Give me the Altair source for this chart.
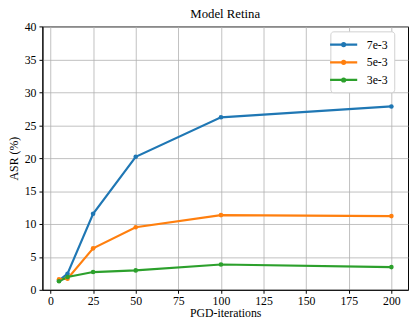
import altair as alt
import pandas as pd

iterations = [5, 10, 25, 50, 100, 200]
asr_7e3 = [1.4, 2.45, 11.55, 20.2, 26.2, 27.85]
asr_5e3 = [1.6, 1.7, 6.3, 9.5, 11.35, 11.2]
asr_3e3 = [1.3, 1.95, 2.7, 2.95, 3.85, 3.45]
series_names = ["7e-3", "5e-3", "3e-3"]
series_colors = ["#1f77b4", "#ff7f0e", "#2ca02c"]
x_ticks = [0, 25, 50, 75, 100, 125, 150, 175, 200]
y_ticks = [0, 5, 10, 15, 20, 25, 30, 35, 40]

rows = []
for name, vals in zip(series_names, [asr_7e3, asr_5e3, asr_3e3]):
    for i, v in zip(iterations, vals):
        rows.append({"iter": i, "asr": v, "eps": name, "ord": series_names.index(name)})
df = pd.DataFrame(rows)

FONT = "Liberation Serif"

# legend glyph: a line with a small dot in the middle (unit-square path)
LEGEND_GLYPH = ("M-2.3,0H2.3"
                "M0.25,0A0.25,0.25,0,1,1,-0.25,0A0.25,0.25,0,1,1,0.25,0Z")

x_enc = alt.X("iter:Q", title="PGD-iterations",
              scale=alt.Scale(domain=[-4.75, 209.75], nice=False, zero=False),
              axis=alt.Axis(values=x_ticks, format="d"))
y_enc = alt.Y("asr:Q", title="ASR (%)",
              scale=alt.Scale(domain=[0, 40], nice=False),
              axis=alt.Axis(values=y_ticks, format="d"))

base = alt.Chart(df)

lines = base.mark_line(strokeWidth=2.2).encode(
    x=x_enc, y=y_enc,
    color=alt.Color("eps:N", title=None,
                    scale=alt.Scale(domain=series_names, range=series_colors),
                    legend=alt.Legend(orient="none", legendX=293, legendY=5,
                                      symbolType=LEGEND_GLYPH, symbolStrokeWidth=2.3,
                                      symbolSize=144, labelFont=FONT, labelFontSize=12,
                                      rowPadding=4, padding=6, fillColor="white",
                                      strokeColor="#d0d0d0", cornerRadius=3,
                                      labelOffset=16)),
    order=alt.Order("ord:Q"),
)

points = base.mark_circle(size=22, opacity=1).encode(
    x=x_enc, y=y_enc,
    color=alt.Color("eps:N", scale=alt.Scale(domain=series_names, range=series_colors),
                    legend=None),
)

chart = alt.layer(lines, points).properties(
    width=372, height=268,
    title=alt.TitleParams("Model Retina", font=FONT, fontSize=13, fontWeight="normal", offset=0),
    autosize=alt.AutoSizeParams(type="none"),
    padding={"left": 35, "top": 16, "right": 1, "bottom": 31},
).configure_view(
    stroke="black", strokeWidth=1
).configure_axis(
    labelFont=FONT, labelFontSize=12, labelColor="black",
    titleFont=FONT, titleFontSize=12, titleFontWeight="normal", titleColor="black",
    domainColor="black", tickColor="black", tickSize=3.5,
    gridColor="#b0b0b0", gridWidth=0.8,
).configure_axisY(titlePadding=4, labelPadding=3).configure_axisX(titlePadding=2, labelPadding=2)

chart.save("out.html", embed_options={"renderer": "svg", "actions": False})
